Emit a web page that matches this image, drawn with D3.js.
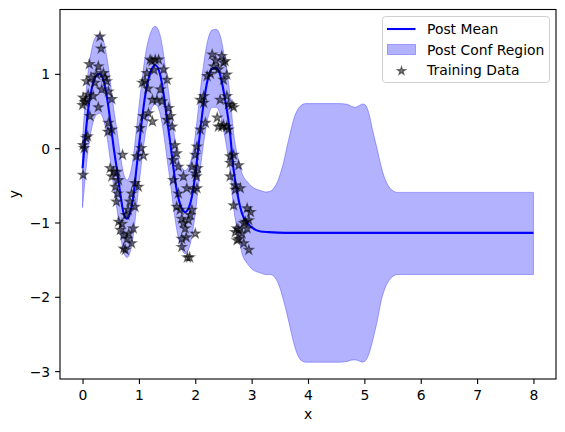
<!DOCTYPE html>
<html>
<head>
<meta charset="utf-8">
<script src="https://cdn.jsdelivr.net/npm/d3@7"></script>
<style>
body { margin: 0; background: #fff; }
text { font-family: "DejaVu Sans", sans-serif; fill: #000; }
</style>
</head>
<body>
<div id="graph"></div>
<script>
const width = 565, height = 432;
const margin = { left: 60, right: 9, top: 9.5, bottom: 53 };
const fontSize = "13.9px";

// posterior mean
const meanX = [0, 0.045, 0.10, 0.16, 0.22, 0.30, 0.37, 0.43, 0.49, 0.55, 0.61, 0.67, 0.73, 0.79, 0.84, 0.90, 0.96, 1.02, 1.11, 1.20,
  1.29, 1.38, 1.44, 1.50, 1.56, 1.61, 1.67, 1.76, 1.82, 1.90, 1.97, 2.03, 2.09, 2.15, 2.22, 2.30, 2.37, 2.44, 2.53, 2.61,
  2.68, 2.77, 2.83, 2.92, 3.01, 3.16, 3.30, 3.6, 4, 5, 6, 7, 8];
const meanY = [-0.27, 0.11, 0.52, 0.79, 0.95, 1.00, 0.92, 0.70, 0.38, 0.02, -0.29, -0.61, -0.88, -0.95, -0.88, -0.65, -0.25, 0.16, 0.70, 1.01,
  1.12, 0.98, 0.72, 0.38, 0.05, -0.25, -0.56, -0.81, -0.86, -0.77, -0.52, -0.16, 0.25, 0.61, 0.92, 1.07, 1.08, 0.99, 0.65, 0.25,
  -0.29, -0.70, -0.88, -1.00, -1.07, -1.12, -1.13, -1.14, -1.14, -1.14, -1.14, -1.14, -1.14];

// confidence region
const bandX = [0, 0.045, 0.10, 0.16, 0.22, 0.30, 0.37, 0.43, 0.49, 0.55, 0.61, 0.67, 0.73, 0.79, 0.84, 0.90, 0.96, 1.02, 1.11, 1.20,
  1.29, 1.38, 1.44, 1.50, 1.56, 1.61, 1.67, 1.76, 1.82, 1.90, 1.97, 2.03, 2.09, 2.15, 2.22, 2.30, 2.37, 2.44, 2.53, 2.61,
  2.68, 2.77, 2.83, 2.92, 3.01, 3.16, 3.25, 3.33, 3.40, 3.46, 3.51, 3.57, 3.63, 3.69, 3.75, 3.81, 3.87, 3.96, 4.20, 4.55,
  4.70, 4.78, 4.84, 4.90, 4.97, 5.02, 5.08, 5.15, 5.23, 5.30, 5.35, 5.42, 5.50, 5.59, 6.5, 8];
const bandUpper = [0.14, 0.60, 1.04, 1.32, 1.48, 1.53, 1.45, 1.23, 0.91, 0.55, 0.24, -0.08, -0.35, -0.43, -0.36, -0.12, 0.28, 0.69, 1.23, 1.54,
  1.64, 1.51, 1.25, 0.91, 0.58, 0.28, -0.03, -0.26, -0.30, -0.22, 0.01, 0.37, 0.78, 1.14, 1.45, 1.59, 1.60, 1.52, 1.17, 0.76,
  0.21, -0.17, -0.34, -0.45, -0.52, -0.57, -0.59, -0.58, -0.53, -0.45, -0.34, -0.18, 0.03, 0.22, 0.40, 0.51, 0.57, 0.60, 0.60, 0.60,
  0.59, 0.56, 0.55, 0.57, 0.595, 0.58, 0.47, 0.23, -0.02, -0.25, -0.38, -0.50, -0.57, -0.595, -0.595, -0.595];
const bandLower = [-0.80, -0.42, -0.01, 0.26, 0.42, 0.47, 0.39, 0.17, -0.15, -0.51, -0.82, -1.14, -1.41, -1.47, -1.41, -1.18, -0.78, -0.37, 0.17, 0.48,
  0.59, 0.45, 0.19, -0.15, -0.48, -0.78, -1.09, -1.36, -1.42, -1.32, -1.05, -0.69, -0.28, 0.08, 0.39, 0.55, 0.55, 0.46, 0.13, -0.27,
  -0.80, -1.20, -1.42, -1.55, -1.63, -1.68, -1.70, -1.70, -1.73, -1.80, -1.90, -2.06, -2.24, -2.44, -2.63, -2.77, -2.85, -2.88, -2.88, -2.88,
  -2.87, -2.85, -2.85, -2.86, -2.88, -2.86, -2.77, -2.58, -2.32, -2.05, -1.92, -1.80, -1.73, -1.70, -1.70, -1.70];

// training data (stars)
const trainX = [0.31, 0.33, 0.12, 0.28, 0.07, 0.15, 0.25, 0.37, 0.43, 0.01, 0.06, 0.10, 0.00, 0.19, 0.28, 0.34, 0.46, 0.52, 0.13, 0.46,
  0.45, 0.52, 0.06, 0.09, 0.01, 0.03, 0.01, 0.04, 0.22, 0.40,
  0.71, 0.49, 0.55, 0.61, 0.52, 0.58, 0.64, 0.60, 0.62, 0.93, 0.99, 0.87, 0.84, 0.93, 0.81, 0.64, 0.67, 0.73, 0.79, 0.90, 0.87, 0.73, 0.76,
  0.70, 0.82, 0.77,
  1.02, 1.08, 1.04, 0.96, 1.08, 1.06, 1.14, 1.20, 1.24, 1.17, 1.24, 1.29, 1.44, 1.50, 1.32, 1.41, 1.53, 1.56, 1.59, 1.50,
  1.11, 1.23, 1.35, 1.38, 1.27, 1.16,
  1.64, 1.67, 1.61, 1.70, 1.61, 1.79, 1.94, 2.00, 2.02, 1.85, 1.97, 2.03, 1.70, 1.67, 1.73, 1.94, 1.76, 1.88, 1.79, 1.82,
  2.00, 1.76, 1.76, 1.90, 1.86, 1.84, 1.91,
  2.04, 2.00, 2.03, 2.09, 2.18, 2.15, 2.15, 2.21, 2.30, 2.47, 2.33, 2.41, 2.50, 2.50, 2.44, 2.65, 2.39, 2.47, 2.41, 2.59,
  2.09, 2.50, 2.56, 2.53, 2.56, 2.56, 2.68, 2.59, 2.27, 2.36,
  2.62, 2.62, 2.71, 2.68, 2.74, 2.77, 2.68, 2.77, 2.80, 2.71, 2.92, 2.98, 2.95, 2.86, 2.77, 2.71, 2.92, 2.74, 2.86, 2.95,
  2.62, 2.89, 2.83];
const trainY = [1.50, 1.34, 1.13, 1.10, 0.90, 0.95, 0.99, 1.01, 0.90, 0.68, 0.65, 0.72, 0.58, 0.70, 0.55, 0.79, 0.76, 0.66, 0.43, 0.34,
  0.22, 0.25, 0.14, 0.16, 0.04, 0.00, -0.36, 0.62, 0.88, 0.95,
  -0.09, -0.27, -0.32, -0.32, -0.38, -0.52, -0.43, -0.72, -0.61, -0.47, -0.52, -0.61, -0.72, -0.79, -0.83, -0.99, -1.10, -1.17, -1.22, -1.08, -1.28, -1.35, -1.37,
  -1.02, -1.15, -0.90,
  0.27, 0.43, 0.00, -0.11, -0.10, 0.88, 1.01, 1.19, 0.65, 0.47, 0.36, 1.19, 1.06, 0.92, 0.65, 0.63, 0.54, 0.43, 0.29, 0.38,
  0.90, 1.17, 1.19, 0.79, 1.05, 0.80,
  0.04, -0.07, -0.16, -0.25, -0.43, -0.38, -0.25, -0.34, -0.38, -0.54, -0.56, -0.54, -0.61, -0.79, -0.83, -0.83, -0.95, -0.97, -1.01, -1.08,
  -1.15, -1.22, -1.33, -1.47, -1.47, -1.20, -0.90,
  -0.27, -0.09, 0.02, 0.25, 0.34, 0.70, 0.61, 0.97, 1.26, 1.24, 1.10, 1.06, 1.15, 0.92, 0.65, 0.58, 0.41, 0.29, 0.29, 0.25,
  0.65, 0.31, 0.29, 1.17, 0.99, 0.70, 0.55, 0.59, 1.00, 1.18,
  -0.20, -0.38, -0.50, -0.77, -1.08, -1.22, -0.09, -0.23, -0.54, -0.56, -0.81, -0.86, -0.97, -1.01, -1.10, -1.13, -1.08, -1.24, -1.28, -1.37,
  -0.11, -0.99, -1.15];

const xTicks = [0, 1, 2, 3, 4, 5, 6, 7, 8];
const yTicks = [-3, -2, -1, 0, 1];
const legendLabels = ["Post Mean", "Post Conf Region", "Training Data"];

const meanData = meanX.map((x, i) => ({ x: x, y: meanY[i] }));
const bandData = bandX.map((x, i) => ({ x: x, lo: bandLower[i], hi: bandUpper[i] }));
const trainData = trainX.map((x, i) => ({ x: x, y: trainY[i] }));

let svg =
d3.select("#graph").
append("svg").
attr("width", width).
attr("height", height);

// matplotlib style 5% margins on the data limits
const xMin = 0, xMax = d3.max(bandX);
const yMin = d3.min(bandLower), yMax = d3.max(bandUpper);
const xPad = (xMax - xMin) * 0.05, yPad = (yMax - yMin) * 0.05;

const xScale =
d3.scaleLinear().
domain([xMin - xPad, xMax + xPad]).
range([margin.left, width - margin.right]);
const yScale =
d3.scaleLinear().
domain([yMin - yPad, yMax + yPad]).
range([height - margin.bottom, margin.top]);

const area =
d3.area().
x(d => xScale(d.x)).
y0(d => yScale(d.lo)).
y1(d => yScale(d.hi)).
curve(d3.curveMonotoneX);

svg.append("path").
datum(bandData).
attr("d", area).
attr("fill", "blue").
attr("fill-opacity", 0.3).
attr("stroke", "blue").
attr("stroke-opacity", 0.3).
attr("stroke-width", 1);

const line =
d3.line().
x(d => xScale(d.x)).
y(d => yScale(d.y)).
curve(d3.curveMonotoneX);

svg.append("path").
datum(meanData).
attr("d", line).
attr("fill", "none").
attr("stroke", "blue").
attr("stroke-width", 2.1);

const star = d3.symbol().type(d3.symbolStar).size(27);

svg.selectAll(".star").
data(trainData).
enter().
append("path").
attr("class", "star").
attr("d", star).
attr("transform", d => "translate(" + xScale(d.x) + "," + yScale(d.y) + ")").
attr("fill", "black").
attr("fill-opacity", 0.5).
attr("stroke", "black").
attr("stroke-opacity", 0.5).
attr("stroke-width", 1.2);

// axes
const xAxis = d3.axisBottom(xScale).tickValues(xTicks).tickSize(4.9).tickSizeOuter(0).tickFormat(d3.format("d"));
const yAxis = d3.axisLeft(yScale).tickValues(yTicks).tickSize(4.9).tickSizeOuter(0).tickFormat(d3.format("d"));

let gx = svg.append("g").
attr("transform", "translate(0," + (height - margin.bottom) + ")").
call(xAxis);
gx.select(".domain").remove();
gx.selectAll("text").attr("y", 21).attr("dy", 0).style("font-size", fontSize);

let gy = svg.append("g").
attr("transform", "translate(" + margin.left + ",0)").
call(yAxis);
gy.select(".domain").remove();
gy.selectAll("text").attr("x", -9.8).attr("dy", "0.36em").style("font-size", fontSize);

svg.selectAll(".tick line").attr("stroke", "black").attr("stroke-width", 1.1);

svg.append("rect").
attr("x", margin.left).
attr("y", margin.top).
attr("width", width - margin.left - margin.right).
attr("height", height - margin.top - margin.bottom).
attr("fill", "none").
attr("stroke", "black").
attr("stroke-width", 1.1);

svg.append("text").
attr("x", (margin.left + width - margin.right) / 2).
attr("y", 419).
attr("text-anchor", "middle").
style("font-size", fontSize).
text("x");

svg.append("text").
attr("transform", "translate(18.5," + (margin.top + height - margin.bottom) / 2 + ") rotate(-90)").
attr("text-anchor", "middle").
style("font-size", fontSize).
text("y");

// legend
let legend = svg.append("g");
legend.append("rect").
attr("x", 382.5).
attr("y", 16.5).
attr("width", 167).
attr("height", 66).
attr("rx", 3).
attr("fill", "white").
attr("fill-opacity", 0.8).
attr("stroke", "#d0d0d0");

legend.append("line").
attr("x1", 387).attr("x2", 415.5).
attr("y1", 29).attr("y2", 29).
attr("stroke", "blue").
attr("stroke-width", 2.1);

legend.append("rect").
attr("x", 387.5).attr("y", 44.5).
attr("width", 28).attr("height", 10).
attr("fill", "blue").attr("fill-opacity", 0.3).
attr("stroke", "blue").attr("stroke-opacity", 0.3);

legend.append("path").
attr("d", d3.symbol().type(d3.symbolStar).size(20)).
attr("transform", "translate(401.5,71)").
attr("fill", "black").attr("fill-opacity", 0.5).
attr("stroke", "black").attr("stroke-opacity", 0.5).
attr("stroke-width", 1.2);

legend.selectAll(".label").
data(legendLabels).
enter().
append("text").
attr("class", "label").
attr("x", 427).
attr("y", (d, i) => 29.3 + i * 20.4).
attr("dy", "0.36em").
style("font-size", fontSize).
text(d => d);
</script>
</body>
</html>
